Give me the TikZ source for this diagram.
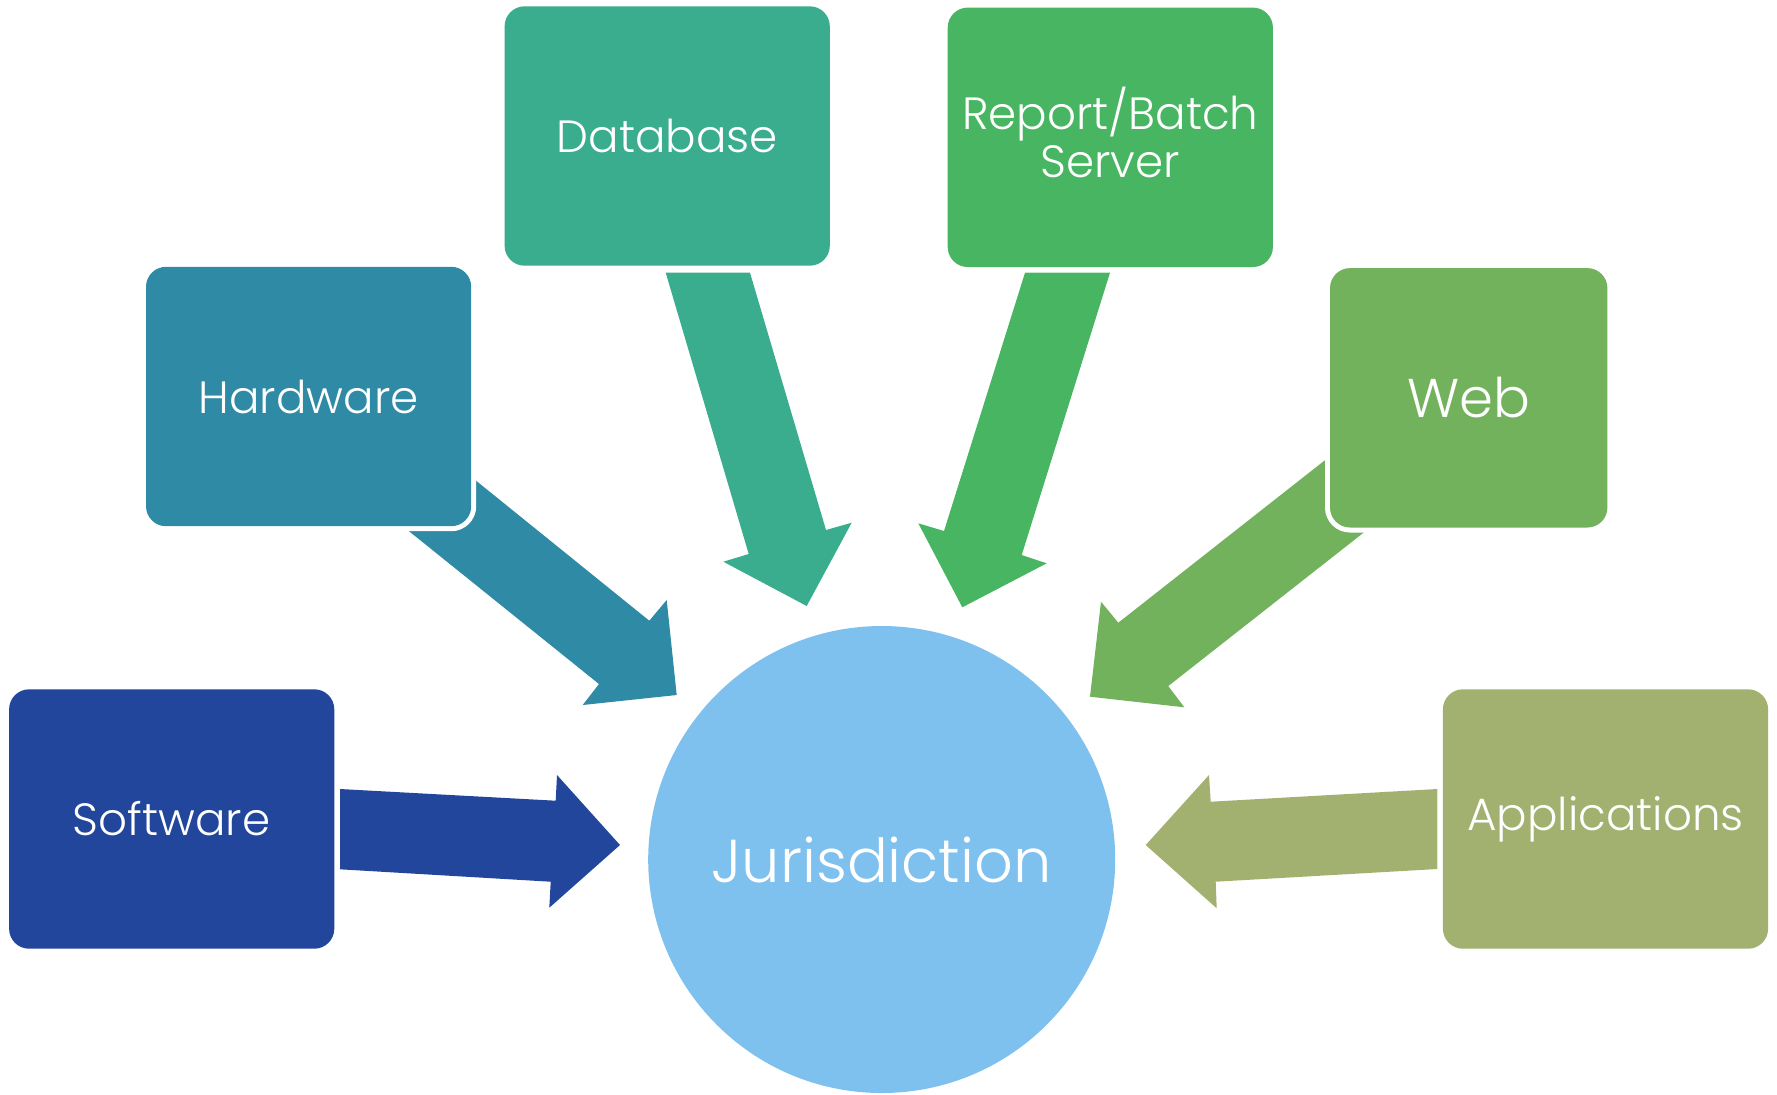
\documentclass[tikz,border=0pt]{standalone}
\usepackage{fontspec}
\setmainfont{Poppins}[UprightFont=* Light]
\definecolor{swblue}{HTML}{21469B}
\definecolor{hwteal}{HTML}{2E8AA5}
\definecolor{dbgreen}{HTML}{3BAD8F}
\definecolor{rpgreen}{HTML}{48B562}
\definecolor{webgreen}{HTML}{73B25D}
\definecolor{appolive}{HTML}{A3B170}
\definecolor{jurblue}{HTML}{7EC0EE}
\begin{document}
\begin{tikzpicture}[x=0.5pt,y=-0.5pt,
  itembox/.style={rectangle, rounded corners=10pt, inner sep=0pt, align=center,
    text=white, font=\fontsize{22.6}{24}\selectfont,
    minimum width=162.6pt, minimum height=129.7pt,
    preaction={draw=white, line width=5pt}},
  hub/.style={circle, inner sep=0pt, minimum size=233.5pt, text=white,
    font=\fontsize{30.3}{36}\selectfont}]
\useasboundingbox (0,0) rectangle (1777,1094);

% central hub
\node[hub, fill=jurblue] (jur) at (881.7,859.5) {Jurisdiction};

% block arrows pointing into the hub
\fill[swblue] (340,789) -- (555.7,800.7) -- (557,775) -- (620,845) -- (549.3,907.7)
  -- (550.7,881.7) -- (340,869.3) -- cycle;
\fill[hwteal] (442.9,453.9) -- (649.3,620.7) -- (666.7,600) -- (676.7,695) -- (582.7,705)
  -- (599,684) -- (374.2,503.2) -- cycle;
\fill[dbgreen] (665.7,272.7) -- (750,272.7) -- (826,530) -- (851.7,522.7) -- (806.7,606)
  -- (723.3,561.7) -- (748.7,554) -- cycle;
\fill[rpgreen] (1025,272.7) -- (1110,272.7) -- (1021.7,555) -- (1046.7,563.3) -- (962.3,607.3)
  -- (918.3,523.3) -- (944,531) -- cycle;
\fill[webgreen] (1365.5,428.3) -- (1118.3,622.7) -- (1101,601.7) -- (1090,696.7) -- (1184.3,707.3)
  -- (1168.3,686) -- (1401.6,502.8) -- cycle;
\fill[appolive] (1437.3,789) -- (1210.7,801.7) -- (1209,775) -- (1145.7,845) -- (1216.7,908.3)
  -- (1215.7,881.7) -- (1437.3,869) -- cycle;

% surrounding boxes
\node[itembox, fill=swblue] (sw) at (171.7,819) {Software};
\node[itembox, fill=hwteal] (hw) at (308.6,396.5) {Hardware};
\node[itembox, fill=dbgreen] (db) at (667.2,136) {Database};
\node[itembox, fill=rpgreen,
  label={[text=white, align=center, font=\fontsize{22.6}{24}\selectfont, yshift=2.4pt]center:Report/Batch\\Server}]
  (rp) at (1110.3,137.3) {};
\node[itembox, fill=webgreen, minimum width=138.7pt, font=\fontsize{27.3}{32}\selectfont] (web) at (1468.7,397.8) {Web};
\node[itembox, fill=appolive] (app) at (1605.5,819) {Applications};
\end{tikzpicture}
\end{document}
